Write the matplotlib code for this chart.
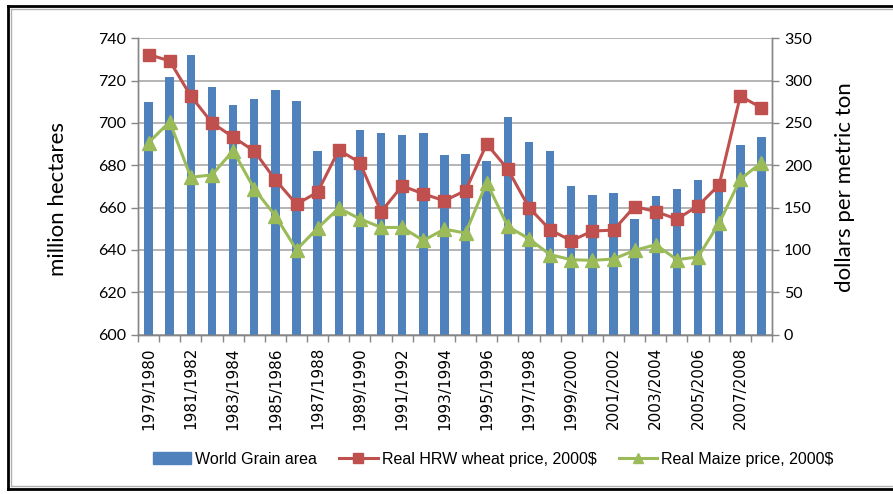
import matplotlib
matplotlib.use("Agg")
import matplotlib.pyplot as plt
from matplotlib.lines import Line2D
from matplotlib.patches import Patch
import numpy as np

years = [f"{y}/{y+1}" for y in range(1979, 2009)]

grain_area = [710.0, 721.8, 732.3, 717.2, 708.4, 711.1, 715.8, 710.5, 686.7, 688.0,
              696.6, 695.4, 694.1, 695.4, 684.7, 685.2, 682.0, 702.8, 690.8, 686.7,
              670.2, 666.1, 667.1, 654.7, 665.5, 668.7, 673.2, 672.0, 689.4, 693.5]

wheat_price = [330.8, 323.3, 281.7, 250.2, 233.3, 216.8, 182.7, 154.0, 168.2, 218.0,
               203.1, 145.0, 175.6, 166.2, 158.0, 170.1, 225.1, 195.2, 150.0, 123.7,
               110.8, 122.2, 123.4, 151.2, 145.3, 136.3, 152.0, 176.8, 281.7, 267.9]

maize_price = [226.7, 251.4, 185.8, 188.6, 217.2, 172.1, 140.2, 100.2, 125.7, 149.3,
               136.7, 126.5, 126.5, 111.1, 124.5, 119.8, 179.5, 127.7, 113.1, 94.3,
               88.4, 87.6, 89.2, 99.4, 106.1, 88.4, 91.6, 131.6, 183.5, 203.1]

left_ticks = [600, 620, 640, 660, 680, 700, 720, 740]
right_ticks = [0, 50, 100, 150, 200, 250, 300, 350]

BLUE = "#4F81BD"
RED = "#C0504D"
GREEN = "#9BBB59"
GRID = "#A0A0A0"
AXC = "#868686"

plt.rcParams['font.family'] = ['Lato', 'DejaVu Sans']

fig = plt.figure(figsize=(8.93, 4.94), dpi=100)
ax = fig.add_axes([138/893, 1-334.5/494, (772-138)/893, (334.5-38.3)/494])
ax2 = ax.twinx()

x = np.arange(len(years))
ax.bar(x, grain_area, width=0.4, color=BLUE, zorder=2)
ax.set_ylim(600, 740)
ax.set_xlim(-0.5, len(years)-0.5)
ax.set_yticks(left_ticks)
ax.yaxis.grid(True, color=GRID, lw=1.1, zorder=0)
ax.set_axisbelow(True)

ax2.plot(x, wheat_price, color=RED, lw=2.2, marker='s', markersize=9,
         markerfacecolor=RED, markeredgecolor=RED, zorder=3)
ax2.plot(x, maize_price, color=GREEN, lw=2.2, marker='^', markersize=10,
         markerfacecolor=GREEN, markeredgecolor=GREEN, zorder=3)
ax2.set_ylim(0, 350)
ax2.set_yticks(right_ticks)

for a in (ax, ax2):
    a.spines['top'].set_visible(False)
    for s in ('left', 'right', 'bottom'):
        a.spines[s].set_color(AXC)
        a.spines[s].set_linewidth(1.0)
    a.tick_params(axis='y', colors=AXC, labelcolor='black', labelsize=11.5, length=5, width=1)

# x ticks: labels every other category, tick marks at category boundaries
ax.set_xticks(x[::2])
ax.set_xticklabels(years[::2], rotation=90, fontsize=11, family=['DejaVu Sans'])
ax.tick_params(axis='x', length=0, pad=9)
ax.set_xticks(np.arange(-0.5, len(years), 1.0), minor=True)
ax.tick_params(axis='x', which='minor', length=5, color=AXC, width=1)

fig.text(58/893, 1-199/494, "million hectares", rotation=90, ha='center', va='center', fontsize=16)
fig.text(845/893, 1-187/494, "dollars per metric ton", rotation=90, ha='center', va='center', fontsize=16)

handles = [Patch(facecolor=BLUE, edgecolor=BLUE),
           Line2D([0], [0], color=RED, lw=2.2, marker='s', markersize=7),
           Line2D([0], [0], color=GREEN, lw=2.2, marker='^', markersize=7)]
labels = ["World Grain area", "Real HRW wheat price, 2000$", "Real Maize price, 2000$"]
fig.legend(handles, labels, loc='center', bbox_to_anchor=(493/893, 1-459/494), ncol=3,
           frameon=False, handlelength=2.4, columnspacing=1.4, handletextpad=0.25,
           prop={'family': ['Liberation Sans', 'DejaVu Sans'], 'size': 11.5})

# outer frame
def fl(x0, y0, x1, y1, c, lw):
    fig.add_artist(Line2D([x0/893, x1/893], [1-y0/494, 1-y1/494], color=c, lw=lw,
                          transform=fig.transFigure))
fl(8, 6, 8, 489, 'black', 2.0)
fl(8, 6, 893, 6, 'black', 2.0)
fl(8, 489, 893, 489, 'black', 2.0)
fl(11, 9, 11, 486, '#B0B0B0', 1.0)
fl(11, 9, 893, 9, '#B0B0B0', 1.0)
fl(11, 486, 893, 486, '#B0B0B0', 1.0)

fig.savefig("out.png", dpi=100)
